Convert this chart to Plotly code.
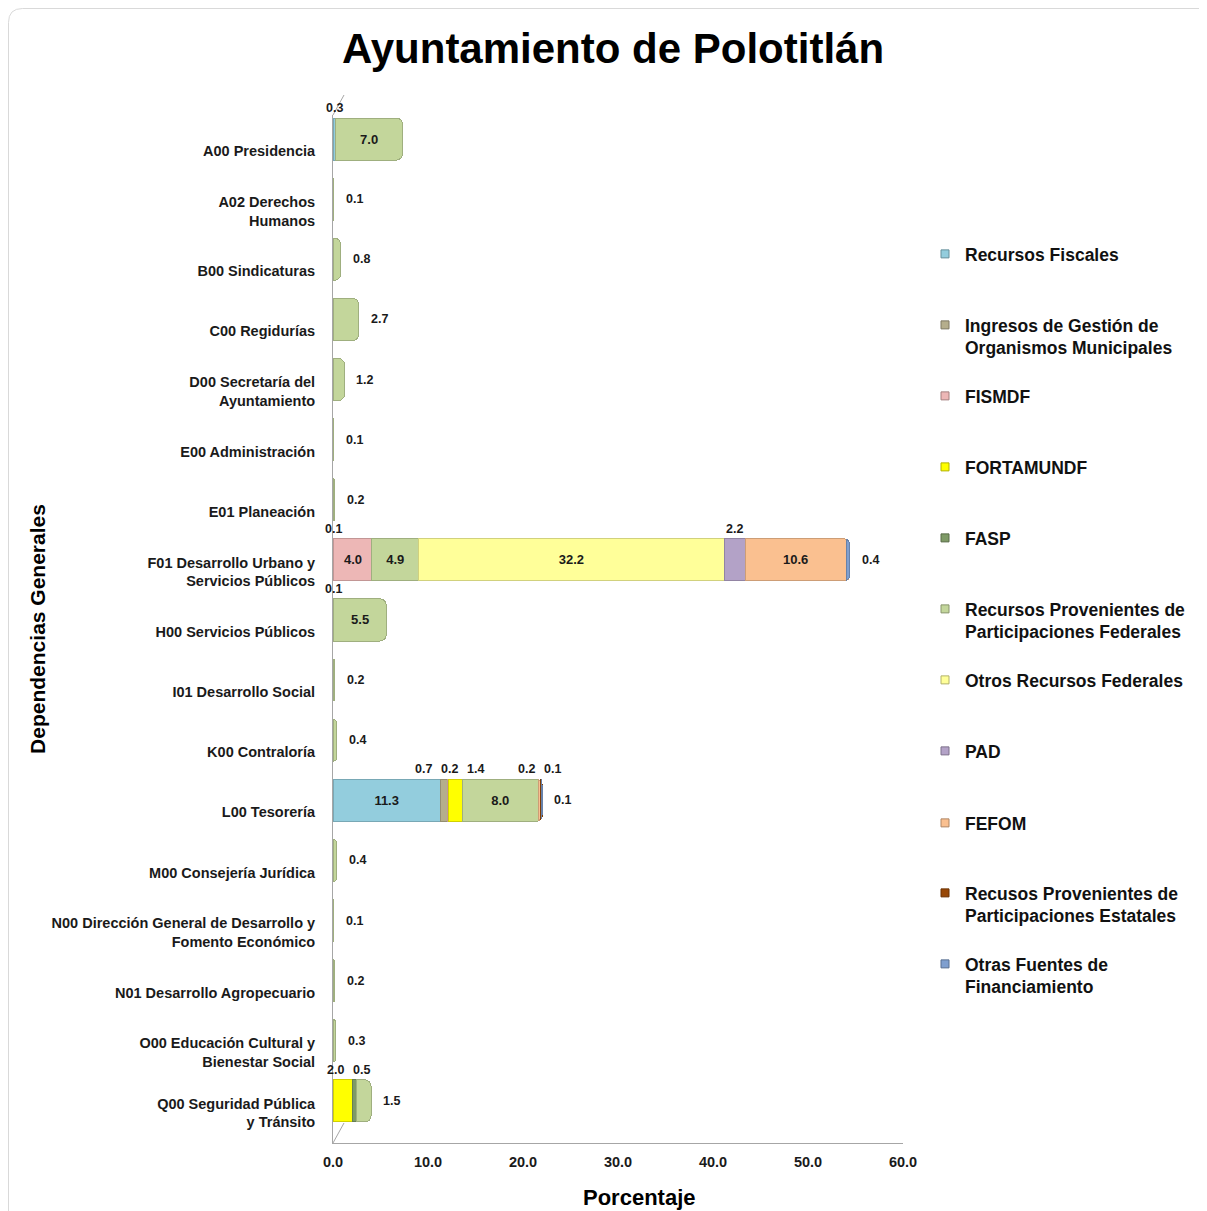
import plotly.graph_objects as go

categories = [
    "A00 Presidencia", "A02 Derechos<br>Humanos", "B00 Sindicaturas", "C00 Regidurías",
    "D00 Secretaría del<br>Ayuntamiento", "E00 Administración", "E01 Planeación",
    "F01 Desarrollo Urbano y<br>Servicios Públicos", "H00 Servicios Públicos",
    "I01 Desarrollo Social", "K00 Contraloría", "L00 Tesorería", "M00 Consejería Jurídica",
    "N00 Dirección General de Desarrollo y<br>Fomento Económico", "N01 Desarrollo Agropecuario",
    "O00 Educación Cultural y<br>Bienestar Social", "Q00 Seguridad Pública<br>y Tránsito",
]

series_names = [
    "Recursos Fiscales",
    "Ingresos de Gestión de<br>Organismos Municipales",
    "FISMDF",
    "FORTAMUNDF",
    "FASP",
    "Recursos Provenientes de<br>Participaciones Federales",
    "Otros Recursos Federales",
    "PAD",
    "FEFOM",
    "Recusos Provenientes de<br>Participaciones Estatales",
    "Otras Fuentes de<br>Financiamiento",
]

#                    A00  A02 B00 C00 D00 E00 E01 F01  H00 I01 K00 L00  M00 N00 N01 O00 Q00
recursos_fiscales = [0.3, 0, 0, 0, 0, 0, 0, 0.1, 0.1, 0, 0, 11.3, 0, 0, 0, 0, 0]
ingresos_gestion = [0, 0, 0, 0, 0, 0, 0, 0, 0, 0, 0, 0.7, 0, 0, 0, 0, 0]
fismdf = [0, 0, 0, 0, 0, 0, 0, 4.0, 0, 0, 0, 0.2, 0, 0, 0, 0, 0]
fortamundf = [0, 0, 0, 0, 0, 0, 0, 0, 0, 0, 0, 1.4, 0, 0, 0, 0, 2.0]
fasp = [0, 0, 0, 0, 0, 0, 0, 0, 0, 0, 0, 0, 0, 0, 0, 0, 0.5]
part_federales = [7.0, 0.1, 0.8, 2.7, 1.2, 0.1, 0.2, 4.9, 5.5, 0.2, 0.4, 8.0, 0.4, 0.1, 0.2, 0.3, 1.5]
otros_federales = [0, 0, 0, 0, 0, 0, 0, 32.2, 0, 0, 0, 0, 0, 0, 0, 0, 0]
pad = [0, 0, 0, 0, 0, 0, 0, 2.2, 0, 0, 0, 0, 0, 0, 0, 0, 0]
fefom = [0, 0, 0, 0, 0, 0, 0, 10.6, 0, 0, 0, 0.2, 0, 0, 0, 0, 0]
part_estatales = [0, 0, 0, 0, 0, 0, 0, 0, 0, 0, 0, 0.1, 0, 0, 0, 0, 0]
otras_fuentes = [0, 0, 0, 0, 0, 0, 0, 0.4, 0, 0, 0, 0.1, 0, 0, 0, 0, 0]

x_ticks = [0, 10, 20, 30, 40, 50, 60]
x_tick_labels = ["0.0", "10.0", "20.0", "30.0", "40.0", "50.0", "60.0"]

series_values = [recursos_fiscales, ingresos_gestion, fismdf, fortamundf, fasp,
                 part_federales, otros_federales, pad, fefom, part_estatales, otras_fuentes]
colors = ["#93CDDD", "#B5AE8C", "#EDB7B6", "#FFFF00", "#7E9A66", "#C3D69B",
          "#FFFF99", "#B3A2C7", "#FAC090", "#984807", "#7F9FCF"]
legend_line_y = [253, 324, 395, 466, 537, 608, 679, 750, 822, 892, 963]

FONT = "Liberation Sans, Arial, sans-serif"
OFF = 8  # page body margin
W, H = 1199, 1203
N_CAT = len(categories)
Y_TOP_EXTRA = 0.6
CAT_STEP = 60.125
PL, PR = 333 - OFF, 903 - OFF
PT = round(151 - Y_TOP_EXTRA * CAT_STEP) - OFF
PB = 1143 - OFF
PW, PH = PR - PL, PB - PT
X_MAX = 60.0
PX_PER_UNIT = PW / X_MAX
BAR_W = 0.70
BAR_LIFT = 0.2  # bars sit slightly above their category (3-D depth look)


def darker(hex_col, f=0.82):
    h = hex_col.lstrip("#")
    r, g, b = (int(h[i:i + 2], 16) for i in (0, 2, 4))
    return "#%02x%02x%02x" % (int(r * f), int(g * f), int(b * f))


fig = go.Figure()

for name, vals, col in zip(series_names, series_values, colors):
    xs = [v if v else None for v in vals]
    txt = [f"{v:.1f}" if v >= 3 else "" for v in vals]
    fig.add_trace(go.Bar(
        y=categories, x=xs, orientation="h", name=name.replace("<br>", " "),
        width=BAR_W, offset=-BAR_W / 2 - BAR_LIFT,
        marker=dict(color=col, line=dict(width=1, color=darker(col))),
        text=txt, textposition="inside", insidetextanchor="middle",
        texttemplate="<b>%{text}</b>",
        textfont=dict(family=FONT, size=13, color="#1a1a1a"),
        showlegend=False, hoverinfo="x+name",
    ))

# Legend-only markers (one legend per item)
for i, (name, col) in enumerate(zip(series_names, colors)):
    lg = "legend" if i == 0 else f"legend{i+1}"
    fig.add_trace(go.Scatter(
        x=[None], y=[None], mode="markers", name=f"<b>{name}</b>", legend=lg,
        marker=dict(symbol="square", size=8, color=col, line=dict(width=1, color=darker(col, 0.7))),
        showlegend=True,
    ))

# Labels for small segments: above (spread apart when crowded) or to the right
LBL_FONT = dict(family=FONT, size=12.5, color="#1a1a1a")
MIN_GAP = 26
annotations = []
for r, cat in enumerate(categories):
    segs = [(series_values[s][r], s) for s in range(len(series_values)) if series_values[s][r]]
    base = 0.0
    above = []
    for k, (v, s) in enumerate(segs):
        last = k == len(segs) - 1
        if v < 3:
            if last:
                annotations.append(dict(x=base + v, y=cat, text=f"<b>{v:.1f}</b>", showarrow=False,
                                        xanchor="left", xshift=10, yshift=12, font=LBL_FONT))
            else:
                above.append((base + v / 2, v))
        base += v
    clusters = []
    for xm, v in above:
        if clusters and (xm - clusters[-1][-1][0]) * PX_PER_UNIT < MIN_GAP:
            clusters[-1].append((xm, v))
        else:
            clusters.append([(xm, v)])
    for cl in clusters:
        n = len(cl)
        mean_px = sum(xm for xm, _ in cl) / n * PX_PER_UNIT
        for j, (xm, v) in enumerate(cl):
            target = mean_px + (j - (n - 1) / 2) * MIN_GAP
            annotations.append(dict(x=xm, y=cat, text=f"<b>{v:.1f}</b>", showarrow=False,
                                    xanchor="center", yshift=43,
                                    xshift=target - xm * PX_PER_UNIT, font=LBL_FONT))

# x-axis title as annotation (offset right like the reference)
annotations.append(dict(text="<b>Porcentaje</b>", xref="paper", yref="paper",
                        x=(639 - OFF - PL) / PW, y=(PB - (1197 - OFF)) / PH,
                        xanchor="center", yanchor="middle", showarrow=False,
                        font=dict(family=FONT, size=22, color="#000000")))

layout_legends = {}
for i, ly in enumerate(legend_line_y):
    key = "legend" if i == 0 else f"legend{i+1}"
    top_px = ly - OFF - 17
    layout_legends[key] = dict(
        x=(917 - PL) / PW, xanchor="left", y=(PB - top_px) / PH, yanchor="top",
        font=dict(family=FONT, size=17.5, color="#111111"), valign="top",
        bgcolor="rgba(0,0,0,0)", borderwidth=0,
    )

# rounded outer frame (top-left corner visible in the reference)
rx, ry = 14 / PW, 14 / PH
fx0, fy_top = (0.5 - PL) / PW, (PB - 0.5) / PH
fx1, fy_bot = (W + 20 - PL) / PW, (PB - (H + 20)) / PH
frame_path = (f"M {fx0},{fy_bot} L {fx0},{fy_top - ry} Q {fx0},{fy_top} {fx0 + rx},{fy_top} "
              f"L {fx1},{fy_top}")

# small 3-D wall/floor edges
wall_dx, wall_dy = 11 / PW, 20 / PH
shapes = [
    dict(type="path", xref="paper", yref="paper", path=frame_path,
         line=dict(color="#d9d9d9", width=1), layer="below"),
    dict(type="line", xref="paper", yref="paper", x0=0, y0=0, x1=wall_dx, y1=wall_dy,
         line=dict(color="#a6a6a6", width=1)),
    dict(type="line", xref="paper", yref="paper", x0=0, y0=1, x1=wall_dx, y1=1 + wall_dy,
         line=dict(color="#a6a6a6", width=1)),
]

fig.update_layout(
    width=W, height=H,
    paper_bgcolor="white", plot_bgcolor="white",
    barmode="stack", barcornerradius=6,
    margin=dict(l=PL, r=W - PR, t=PT, b=H - PB, autoexpand=False),
    title=dict(text="<b>Ayuntamiento de Polotitlán</b>", x=(613 - OFF) / W, xref="container",
               xanchor="center", y=1 - (48 - OFF) / H, yref="container", yanchor="middle",
               font=dict(family=FONT, size=42, color="#000000")),
    xaxis=dict(range=[0, X_MAX], tickvals=x_ticks,
               ticktext=[f"<b>{t}</b>" for t in x_tick_labels],
               showgrid=False, zeroline=False,
               showline=True, linecolor="#a6a6a6", linewidth=1, ticks="", ticklabelstandoff=6,
               tickfont=dict(family=FONT, size=14.5, color="#1a1a1a")),
    yaxis=dict(categoryorder="array", categoryarray=categories,
               range=[N_CAT - 0.5, -Y_TOP_EXTRA], autorange=False,
               showgrid=False, zeroline=False, showline=True, linecolor="#a6a6a6", linewidth=1,
               ticks="", ticklabelstandoff=14, tickprefix="<b>", ticksuffix="</b>",
               tickfont=dict(family=FONT, size=14.5, color="#1a1a1a"),
               title=dict(text="<b>Dependencias Generales</b>", standoff=0,
                          font=dict(family=FONT, size=21, color="#000000"))),
    annotations=annotations,
    shapes=shapes,
    **layout_legends,
)

fig.write_html("out.html")
